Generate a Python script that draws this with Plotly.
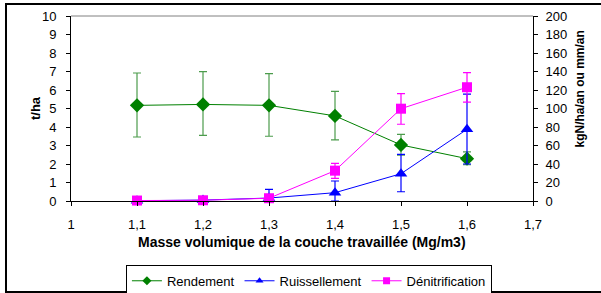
import plotly.graph_objects as go

masse = [1.1, 1.2, 1.3, 1.4, 1.5, 1.6]
rendement = [5.17, 5.22, 5.17, 4.6, 3.03, 2.29]
rendement_plus = [1.75, 1.77, 1.71, 1.33, 0.57, 0.37]
rendement_minus = [1.71, 1.67, 1.67, 1.3, 0.55, 0.33]
ruissellement = [0.3, 1.0, 3.2, 9.0, 29.5, 77.5]
ruissellement_plus = [0.5, 1.0, 9.4, 12.6, 21.0, 38.0]
ruissellement_minus = [0.5, 1.0, 8.2, 9.0, 19.5, 37.5]
denitrification = [0.5, 0.8, 3.0, 32.8, 99.8, 123.0]
denitrification_plus = [0.0, 0.0, 0.0, 7.9, 16.2, 15.7]
denitrification_minus = [0.0, 0.0, 0.0, 8.3, 16.8, 16.0]

series_names = ["Rendement", "Ruissellement", "Dénitrification"]
colors = ["#008000", "#0000FF", "#FF00FF"]
symbols = ["diamond", "triangle-up", "square"]

font = "Liberation Sans, Arial, sans-serif"
fig = go.Figure()

fig.add_trace(go.Scatter(
    x=masse, y=rendement, name=series_names[0], mode="lines+markers", showlegend=False,
    line=dict(color=colors[0], width=1),
    marker=dict(symbol=symbols[0], size=11, color=colors[0]),
    error_y=dict(type="data", symmetric=False, array=rendement_plus,
                 arrayminus=rendement_minus, color="#4c9c4c", thickness=1.2, width=4),
    cliponaxis=False, yaxis="y"))
fig.add_trace(go.Scatter(
    x=masse, y=ruissellement, name=series_names[1], mode="lines+markers", showlegend=False,
    line=dict(color=colors[1], width=1),
    marker=dict(symbol=symbols[1], size=11, color=colors[1]),
    error_y=dict(type="data", symmetric=False, array=ruissellement_plus,
                 arrayminus=ruissellement_minus, color=colors[1], thickness=1.2, width=4),
    cliponaxis=False, yaxis="y2"))
fig.add_trace(go.Scatter(
    x=masse, y=denitrification, name=series_names[2], mode="lines+markers", showlegend=False,
    line=dict(color=colors[2], width=1),
    marker=dict(symbol=symbols[2], size=10, color=colors[2]),
    error_y=dict(type="data", symmetric=False, array=denitrification_plus,
                 arrayminus=denitrification_minus, color=colors[2], thickness=1.2, width=4),
    cliponaxis=False, yaxis="y2"))

# legend entries with small markers (as in the reference legend)
for name, col, sym in zip(series_names, colors, symbols):
    fig.add_trace(go.Scatter(
        x=[None], y=[None], name=name, mode="lines+markers",
        line=dict(color=col, width=1), marker=dict(symbol=sym, size=7, color=col)))

fig.update_layout(
    width=601, height=293,
    margin=dict(l=71, r=68, t=16, b=92, autoexpand=False),
    paper_bgcolor="white", plot_bgcolor="white",
    separators=", ",
    font=dict(family=font, size=13, color="black"),
    xaxis=dict(range=[1, 1.7], dtick=0.1, tick0=1, showgrid=False, zeroline=False,
               showline=True, linecolor="black", linewidth=1, automargin=False,
               ticks="outside", ticklen=4, tickcolor="black", ticklabelstandoff=7),
    yaxis=dict(range=[0, 10], dtick=1, showgrid=False, zeroline=False,
               showline=True, linecolor="black", linewidth=1, automargin=False,
               ticks="outside", ticklen=4, tickcolor="black", ticklabelstandoff=7),
    yaxis2=dict(range=[0, 200], dtick=20, overlaying="y", side="right",
                showgrid=False, zeroline=False, automargin=False,
                showline=True, linecolor="black", linewidth=1,
                ticks="outside", ticklen=4, tickcolor="black", ticklabelstandoff=5),
    legend=dict(orientation="h", x=0.515, xanchor="center", y=-0.345, yanchor="top",
                bordercolor="black", borderwidth=1, font=dict(size=13),
                itemwidth=30, itemsizing="trace", tracegroupgap=0),
    annotations=[
        dict(text="<b>t/ha</b>", xref="paper", yref="paper", x=-0.0779, y=0.5027,
             textangle=-90, showarrow=False, font=dict(size=13),
             xanchor="center", yanchor="middle"),
        dict(text="<b>kgN/ha/an ou mm/an</b>", xref="paper", yref="paper", x=1.1017, y=0.608,
             textangle=-90, showarrow=False, font=dict(size=12),
             xanchor="center", yanchor="middle"),
        dict(text="<b>Masse volumique de la couche travaillée (Mg/m3)</b>", xref="paper",
             yref="paper", x=0.5, y=-0.2216, showarrow=False, font=dict(size=14),
             xanchor="center", yanchor="middle"),
    ],
    shapes=[
        dict(type="line", xref="paper", yref="paper", x0=0, x1=1, y0=1, y1=1,
             line=dict(color="#808080", width=1)),
        dict(type="rect", xref="paper", yref="paper", x0=-0.1407, x1=1.2,
             y0=-0.4919, y1=1.0649, line=dict(color="black", width=2)),
    ],
)

fig.write_html("out.html", config={"displayModeBar": False},
               post_script="document.body.style.margin='0';document.body.style.overflow='hidden';")
